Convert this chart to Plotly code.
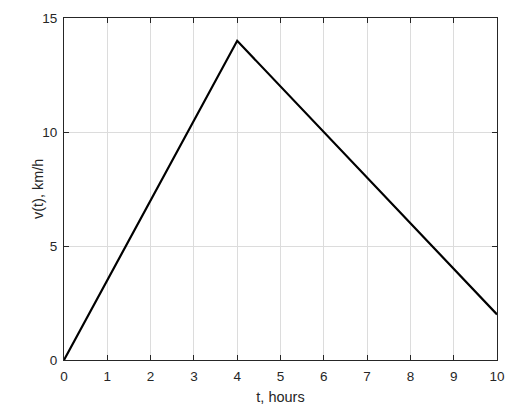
import plotly.graph_objects as go

t_hours = [0, 4, 10]
v_kmh = [0, 14, 2]
x_ticks = list(range(0, 11))
y_ticks = [0, 5, 10, 15]

FONT = "Liberation Sans, Arial"
TXT = "#262626"

fig = go.Figure()
fig.add_trace(go.Scatter(x=t_hours, y=v_kmh, mode="lines",
                         line=dict(color="black", width=2.2), showlegend=False))

axis_common = dict(
    showline=True, linecolor=TXT, linewidth=1, mirror="ticks",
    ticks="inside", ticklen=5, tickcolor=TXT, tickwidth=1,
    showgrid=True, gridcolor="#dcdcdc", gridwidth=1, zeroline=False,
    automargin=False,
    tickfont=dict(family=FONT, size=13.5, color=TXT),
)
fig.update_xaxes(range=[0, 10], tickvals=x_ticks, ticklabelstandoff=4,
                 title=dict(text="t, hours", font=dict(family=FONT, size=14.5, color=TXT), standoff=9),
                 **axis_common)
fig.update_yaxes(range=[0, 15], tickvals=y_ticks, ticklabelstandoff=3,
                 **axis_common)
fig.add_annotation(text="v(t), km/h", xref="paper", yref="paper", x=0, y=0.5,
                   xanchor="center", yanchor="middle", xshift=-26, textangle=-90,
                   showarrow=False, font=dict(family=FONT, size=14.5, color=TXT))
# page body has an 8px default margin, so the figure is reduced by 8px
fig.update_layout(width=513, height=397, plot_bgcolor="white", paper_bgcolor="white",
                  margin=dict(l=56, r=24, t=10, b=45))
fig.write_html("out.html")
